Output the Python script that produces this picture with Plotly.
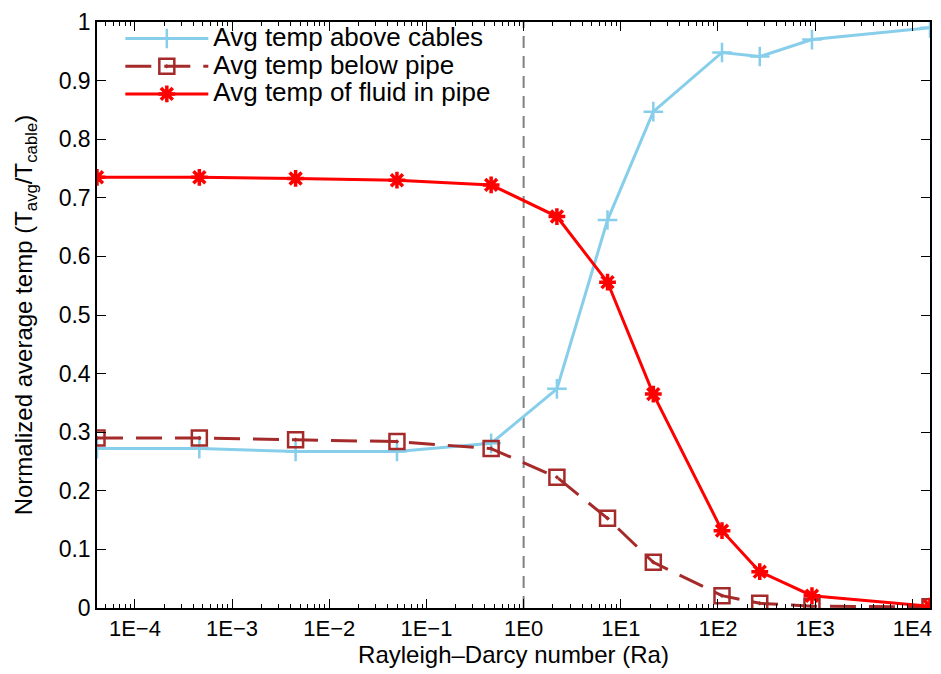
import numpy as np
import plotly.graph_objects as go

# ---- data ----
ra = [4.07e-5, 4.6e-4, 4.5e-3, 4.97e-2, 0.463, 2.2, 7.3, 21.6, 110, 269, 927, 1.52e4]
above_cables = [0.272, 0.272, 0.267, 0.267, 0.281, 0.374, 0.662, 0.847, 0.948, 0.941, 0.970, 0.990]
below_pipe = [0.290, 0.290, 0.287, 0.284, 0.272, 0.223, 0.153, 0.078, 0.021, 0.008, 0.003, 0.002]
fluid_in_pipe = [0.735, 0.735, 0.733, 0.730, 0.722, 0.668, 0.556, 0.365, 0.132, 0.062, 0.021, 0.003]

series_names = ["Avg temp above cables", "Avg temp below pipe", "Avg temp of fluid in pipe"]

threshold_ra = 1.0
major_tick_vals = [1e-4, 1e-3, 1e-2, 1e-1, 1e0, 1e1, 1e2, 1e3, 1e4]
major_tick_text = ["1E\u22124", "1E\u22123", "1E\u22122", "1E\u22121", "1E0", "1E1", "1E2", "1E3", "1E4"]
minor_tick_vals = [m * 10.0 ** e for e in range(-5, 5) for m in range(2, 10)]

FONT = "Liberation Sans, Arial, sans-serif"


def legend_label(s):
    return '<span style="font-size:26px">' + s + "</span>"


fig = go.Figure()

# vertical reference line at Ra = 1
fig.add_trace(go.Scatter(
    x=[threshold_ra, threshold_ra], y=[0, 1], mode="lines",
    line=dict(color="#808080", width=2, dash="12px,8px"),
    showlegend=False, hoverinfo="skip"))

fig.add_trace(go.Scatter(
    x=ra, y=above_cables, mode="lines+markers", name=legend_label(series_names[0]),
    line=dict(color="#87CEEB", width=3),
    marker=dict(symbol="cross-thin", size=14, color="#87CEEB",
                line=dict(color="#87CEEB", width=2.5))))

fig.add_trace(go.Scatter(
    x=ra, y=below_pipe, mode="lines+markers", name=legend_label(series_names[1]),
    line=dict(color="#A52A2A", width=3, dash="26px,13px"),
    marker=dict(symbol="square-open-dot", size=15, color="#A52A2A",
                line=dict(color="#A52A2A", width=2.5))))

fig.add_trace(go.Scatter(
    x=ra, y=fluid_in_pipe, mode="lines+markers", name=legend_label(series_names[2]),
    line=dict(color="#FF0000", width=3),
    marker=dict(symbol="asterisk-open", size=14, color="#FF0000",
                line=dict(color="#FF0000", width=3.5))))

fig.update_layout(
    width=941, height=674,
    margin=dict(l=96.5, r=8.7, t=15, b=65.7),
    plot_bgcolor="white", paper_bgcolor="white",
    font=dict(family=FONT, size=23, color="black"),
    legend=dict(x=0.028, y=1.004, xanchor="left", yanchor="top",
                bgcolor="rgba(0,0,0,0)", font=dict(size=19, family=FONT),
                itemwidth=83, tracegroupgap=0),
    xaxis=dict(
        type="log",
        range=[np.log10(min(ra)), np.log10(max(ra))],
        tickvals=major_tick_vals, ticktext=major_tick_text,
        ticks="inside", ticklen=9, tickwidth=1, tickcolor="black",
        minor=dict(tickvals=minor_tick_vals, ticks="inside", ticklen=4,
                   tickcolor="black", showgrid=False),
        showline=True, linecolor="black", linewidth=1.5, mirror="ticks",
        showgrid=False, zeroline=False,
        tickfont=dict(size=22, family=FONT),
        title=dict(text="Rayleigh\u2013Darcy number (Ra)", font=dict(size=24, family=FONT), standoff=6),
    ),
    yaxis=dict(
        range=[0, 1], dtick=0.1,
        ticks="inside", ticklen=9, tickwidth=1, tickcolor="black",
        showline=True, linecolor="black", linewidth=1.5, mirror="ticks",
        showgrid=False, zeroline=False,
        tickfont=dict(size=23, family=FONT),
        title=dict(text="Normalized average temp (T<sub>avg</sub>/T<sub>cable</sub>)",
                   font=dict(size=24, family=FONT), standoff=19),
    ),
)

fig.write_html("out.html")
